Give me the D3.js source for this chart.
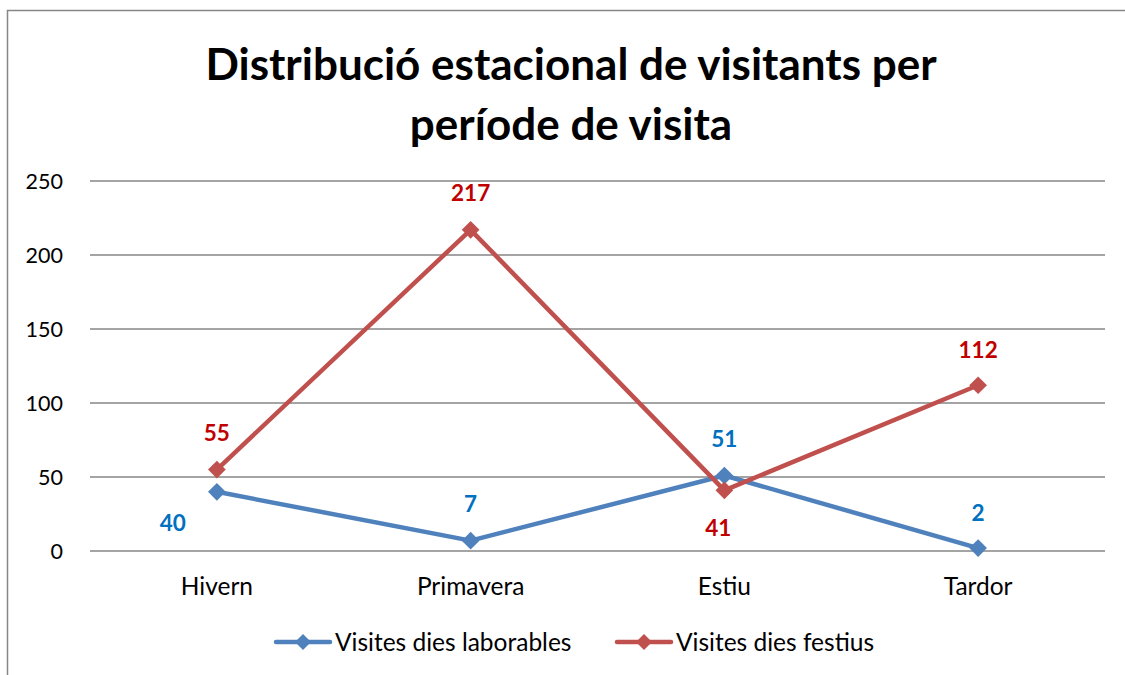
<!DOCTYPE html>
<html>
<head>
<meta charset="utf-8">
<script src="https://cdn.jsdelivr.net/npm/d3@7"></script>
<style>
body { margin: 0; background: #fff; }
svg { font-family: Lato, "Open Sans", sans-serif; }
.axis-label { font-size: 24.5px; fill: #000; }
.ytick-label { font-size: 21.5px; fill: #000; }
.title { font-size: 44px; font-weight: bold; fill: #000; }
.data-label { font-size: 22.5px; font-weight: bold; }
.legend-text { font-size: 24.5px; fill: #000; }
</style>
</head>
<body>
<svg width="1125" height="675"></svg>
<script>
var categories = ['Hivern', 'Primavera', 'Estiu', 'Tardor'];
var laborables = [40, 7, 51, 2];
var festius = [55, 217, 41, 112];
var yTicks = [0, 50, 100, 150, 200, 250];
var seriesNames = ['Visites dies laborables', 'Visites dies festius'];

var svg = d3.select('svg'),
	width = +svg.attr('width'), height = +svg.attr('height');

//Chart border (runs off the right and bottom edges).
svg.append('rect')
	.attr('x', 7.5).attr('y', 10.5)
	.attr('width', 1130).attr('height', 680)
	.style('fill', 'none').style('stroke', '#868686').style('stroke-width', 1.5);

var margin = {top: 181, left: 90, right: 20, bottom: 124};
var widthInner = width - margin.left - margin.right,
	heightInner = height - margin.top - margin.bottom;
var inner = svg.append('g')
	.attr('transform', 'translate(' + margin.left + ',' + margin.top + ')');

var xScale = d3.scaleBand().domain(categories).range([0, widthInner]);
var yScale = d3.scaleLinear().domain([0, 250]).range([heightInner, 0]);
function cx(d, i) { return xScale(categories[i]) + xScale.bandwidth() / 2; }

//Gridlines.
inner.selectAll('.grid').data(yTicks).enter().append('line')
	.attr('x1', 0).attr('x2', widthInner)
	.attr('y1', function(d) { return yScale(d); })
	.attr('y2', function(d) { return yScale(d); })
	.style('stroke', '#868686').style('stroke-width', 1.5);

//Y tick labels.
inner.selectAll('.ytick').data(yTicks).enter().append('text')
	.attr('class', 'ytick-label')
	.attr('x', -27).attr('y', function(d) { return yScale(d); })
	.attr('dy', '0.35em').attr('text-anchor', 'end')
	.text(function(d) { return d; });

//X tick labels.
inner.selectAll('.xtick').data(categories).enter().append('text')
	.attr('class', 'axis-label')
	.attr('x', function(d) { return xScale(d) + xScale.bandwidth() / 2; })
	.attr('y', heightInner + 44).attr('text-anchor', 'middle')
	.text(function(d) { return d; });

var series = [
	{values: laborables, line: '#4F81BD', label: '#0070C0',
		offsets: [[-44, 31], [0, -37], [0, -36], [0, -35]]},
	{values: festius, line: '#C0504D', label: '#C00000',
		offsets: [[0, -36], [0, -37], [-6, 38], [0, -35]]}
];

var line = d3.line()
	.x(function(d, i) { return cx(d, i); })
	.y(function(d) { return yScale(d); });
var diamond = d3.symbol().type(d3.symbolDiamond2).size(200);
var legendDiamond = d3.symbol().type(d3.symbolDiamond2).size(162);

series.forEach(function(s) {
	inner.append('path')
		.datum(s.values)
		.attr('d', line)
		.style('fill', 'none').style('stroke', s.line)
		.style('stroke-width', 4.5).style('stroke-linejoin', 'round');
	inner.selectAll(null).data(s.values).enter().append('path')
		.attr('d', diamond)
		.attr('transform', function(d, i) { return 'translate(' + cx(d, i) + ',' + yScale(d) + ')'; })
		.style('fill', s.line);
});
series.forEach(function(s) {
	inner.selectAll(null).data(s.values).enter().append('text')
		.attr('class', 'data-label')
		.attr('x', function(d, i) { return cx(d, i) + s.offsets[i][0]; })
		.attr('y', function(d, i) { return yScale(d) + s.offsets[i][1]; })
		.attr('dy', '0.35em').attr('text-anchor', 'middle')
		.style('fill', s.label)
		.text(function(d) { return d; });
});

//Title.
svg.append('text').attr('class', 'title')
	.attr('x', 571).attr('y', 80).attr('text-anchor', 'middle')
	.text('Distribució estacional de visitants per');
svg.append('text').attr('class', 'title')
	.attr('x', 571).attr('y', 140).attr('text-anchor', 'middle')
	.text('període de visita');

//Legend.
var legendX = [276, 617];
series.forEach(function(s, i) {
	var g = svg.append('g').attr('transform', 'translate(' + legendX[i] + ',642)');
	g.append('line').attr('x1', 0).attr('x2', 54)
		.style('stroke', s.line).style('stroke-width', 4.5).style('stroke-linecap', 'round');
	g.append('path').attr('d', legendDiamond).attr('transform', 'translate(27,0)').style('fill', s.line);
	g.append('text').attr('class', 'legend-text')
		.attr('x', 59).attr('dy', '0.35em').text(seriesNames[i]);
});
</script>
</body>
</html>
